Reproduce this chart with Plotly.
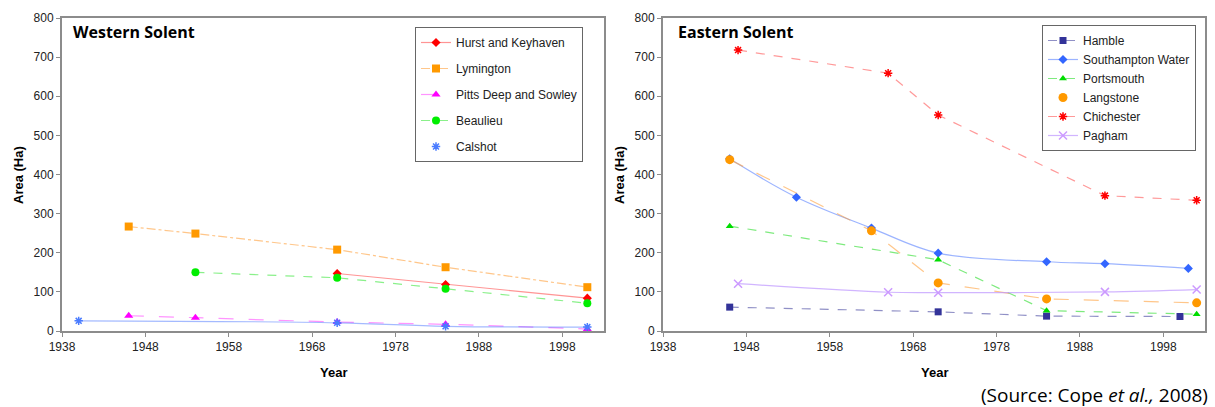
import plotly.graph_objects as go

# ---- Western Solent saltmarsh area (Ha) ----
hurst_years = [1971, 1984, 2001]
hurst_area = [147, 119, 84]
lym_years = [1946, 1954, 1971, 1984, 2001]
lym_area = [267, 249, 208, 163, 112]
pitts_years = [1946, 1954, 1971, 1984, 2001]
pitts_area = [39, 34, 23, 17, 5]
beau_years = [1954, 1971, 1984, 2001]
beau_area = [150, 136, 108, 71]
cal_years = [1940, 1971, 1984, 2001]
cal_area = [26, 21, 12, 10]

# ---- Eastern Solent saltmarsh area (Ha) ----
ham_years = [1946, 1971, 1984, 2000]
ham_area = [61, 49, 38, 37]
sw_years = [1946, 1954, 1963, 1971, 1984, 1991, 2001]
sw_area = [440, 342, 263, 199, 177, 172, 160]
ports_years = [1946, 1971, 1984, 2002]
ports_area = [268, 182, 52, 43]
lang_years = [1946, 1963, 1971, 1984, 2002]
lang_area = [438, 256, 123, 82, 72]
chi_years = [1947, 1965, 1971, 1991, 2002]
chi_area = [718, 659, 552, 346, 334]
pag_years = [1947, 1965, 1971, 1991, 2002]
pag_area = [121, 99, 98, 100, 106]

x_ticks = [1938, 1948, 1958, 1968, 1978, 1988, 1998]
y_ticks = [0, 100, 200, 300, 400, 500, 600, 700, 800]

W, H = 1215, 407
TOP, BOT = 18, 331          # plot area top/bottom in pixels
PH = BOT - TOP


def px(x):
    return x / W


def py(y):
    # pixel row -> paper fraction of the plot area
    return (BOT - y) / PH


fig = go.Figure()


def add_series(name, xs, ys, color, line_color, dash, symbol, size, xa, ya,
               legend, group, shape="linear", legend_line=True, mline=0):
    marker = dict(symbol=symbol, size=size, color=color,
                  line=dict(color=color, width=mline))
    fig.add_trace(go.Scatter(
        x=xs, y=ys, name=name, mode="lines+markers",
        line=dict(color=line_color, width=1.2, dash=dash, shape=shape),
        marker=marker, xaxis=xa, yaxis=ya, legend=legend,
        legendgroup=group, showlegend=legend_line))
    if not legend_line:
        # legend entry drawn with the marker only
        fig.add_trace(go.Scatter(
            x=[None], y=[None], name=name, mode="markers", marker=marker,
            xaxis=xa, yaxis=ya, legend=legend, legendgroup=group))


# Western Solent
add_series("Hurst and Keyhaven", hurst_years, hurst_area, "#FF0000",
           "rgba(255,60,60,0.55)", "solid", "diamond", 7, "x", "y", "legend", "w1")
add_series("Lymington", lym_years, lym_area, "#FF9900",
           "rgba(255,160,60,0.6)", "dashdot", "square", 8, "x", "y", "legend", "w2")
add_series("Pitts Deep and Sowley", pitts_years, pitts_area, "#FF00FF",
           "rgba(255,60,255,0.55)", "longdash", "triangle-up", 8, "x", "y", "legend", "w3",
           shape="spline")
add_series("Beaulieu", beau_years, beau_area, "#00EE00",
           "rgba(60,230,60,0.6)", "dash", "circle", 8, "x", "y", "legend", "w4")
add_series("Calshot", cal_years, cal_area, "#4A7CFF",
           "rgba(90,130,255,0.55)", "solid", "asterisk-open", 7, "x", "y", "legend", "w5",
           shape="spline", legend_line=False, mline=1.5)

# Eastern Solent
add_series("Hamble", ham_years, ham_area, "#333399",
           "rgba(70,70,160,0.6)", "dash", "square", 7, "x2", "y2", "legend2", "e1")
add_series("Southampton Water", sw_years, sw_area, "#3366FF",
           "rgba(90,130,255,0.6)", "solid", "diamond", 7, "x2", "y2", "legend2", "e2",
           shape="spline")
add_series("Portsmouth", ports_years, ports_area, "#00DD00",
           "rgba(40,220,40,0.6)", "dash", "triangle-up", 7, "x2", "y2", "legend2", "e3")
add_series("Langstone", lang_years, lang_area, "#FF9900",
           "rgba(255,160,60,0.6)", "longdash", "circle", 9, "x2", "y2", "legend2", "e4",
           legend_line=False)
add_series("Chichester", chi_years, chi_area, "#FF0000",
           "rgba(255,70,70,0.55)", "dash", "asterisk-open", 7, "x2", "y2", "legend2", "e5",
           mline=1.5)
add_series("Pagham", pag_years, pag_area, "#CC99FF",
           "rgba(190,150,255,0.7)", "solid", "x-thin-open", 8, "x2", "y2", "legend2", "e6",
           shape="spline", mline=1.5)

axis_common = dict(
    showline=True, linecolor="#8c8c8c", linewidth=2, mirror=True,
    ticks="outside", ticklen=4, tickcolor="#8c8c8c", tickwidth=1,
    showgrid=False, zeroline=False,
    tickfont=dict(family="Arial, Liberation Sans", size=12, color="#222"),
)

legend_font = dict(family="Arial, Liberation Sans", size=12, color="#222")

fig.update_layout(
    width=W, height=H,
    paper_bgcolor="white", plot_bgcolor="white",
    margin=dict(l=0, r=0, t=TOP, b=H - BOT, autoexpand=False),
    xaxis=dict(domain=[px(62), px(604)], range=[1938, 2003], tickvals=x_ticks,
               anchor="y", **axis_common),
    yaxis=dict(domain=[0, 1], range=[0, 800], tickvals=y_ticks, anchor="x",
               **axis_common),
    xaxis2=dict(domain=[px(663), px(1205)], range=[1938, 2003], tickvals=x_ticks,
                anchor="y2", **axis_common),
    yaxis2=dict(domain=[0, 1], range=[0, 800], tickvals=y_ticks, anchor="x2",
                **axis_common),
    legend=dict(x=px(415), y=py(27), xanchor="left", yanchor="top",
                bgcolor="white", bordercolor="#666", borderwidth=1,
                font=legend_font, tracegroupgap=7, itemwidth=30),
    legend2=dict(x=px(1042), y=py(25), xanchor="left", yanchor="top",
                 bgcolor="white", bordercolor="#666", borderwidth=1,
                 font=legend_font, tracegroupgap=0, itemwidth=30),
    showlegend=True,
)

annots = [
    dict(text="<b>Western Solent</b>", x=px(71), y=py(32),
         font=dict(family="Open Sans", size=16, color="#000")),
    dict(text="<b>Eastern Solent</b>", x=px(676), y=py(32),
         font=dict(family="Open Sans", size=16, color="#000")),
    dict(text="<b>Year</b>", x=px(333), y=py(372), xanchor="center",
         font=dict(family="Arial, Liberation Sans", size=13, color="#000")),
    dict(text="<b>Year</b>", x=px(934), y=py(372), xanchor="center",
         font=dict(family="Arial, Liberation Sans", size=13, color="#000")),
    dict(text="<b>Area (Ha)</b>", x=px(18), y=py(175), xanchor="center",
         textangle=-90,
         font=dict(family="Arial, Liberation Sans", size=13, color="#000")),
    dict(text="<b>Area (Ha)</b>", x=px(619), y=py(175), xanchor="center",
         textangle=-90,
         font=dict(family="Arial, Liberation Sans", size=13, color="#000")),
    dict(text="(Source: Cope <i>et al.,</i> 2008)", x=px(1210), y=py(395),
         xanchor="right",
         font=dict(family="Open Sans", size=19, color="#000")),
]
for a in annots:
    a.setdefault("xanchor", "left")
    fig.add_annotation(xref="paper", yref="paper", showarrow=False,
                       yanchor="middle", **a)

fig.write_html("out.html")
